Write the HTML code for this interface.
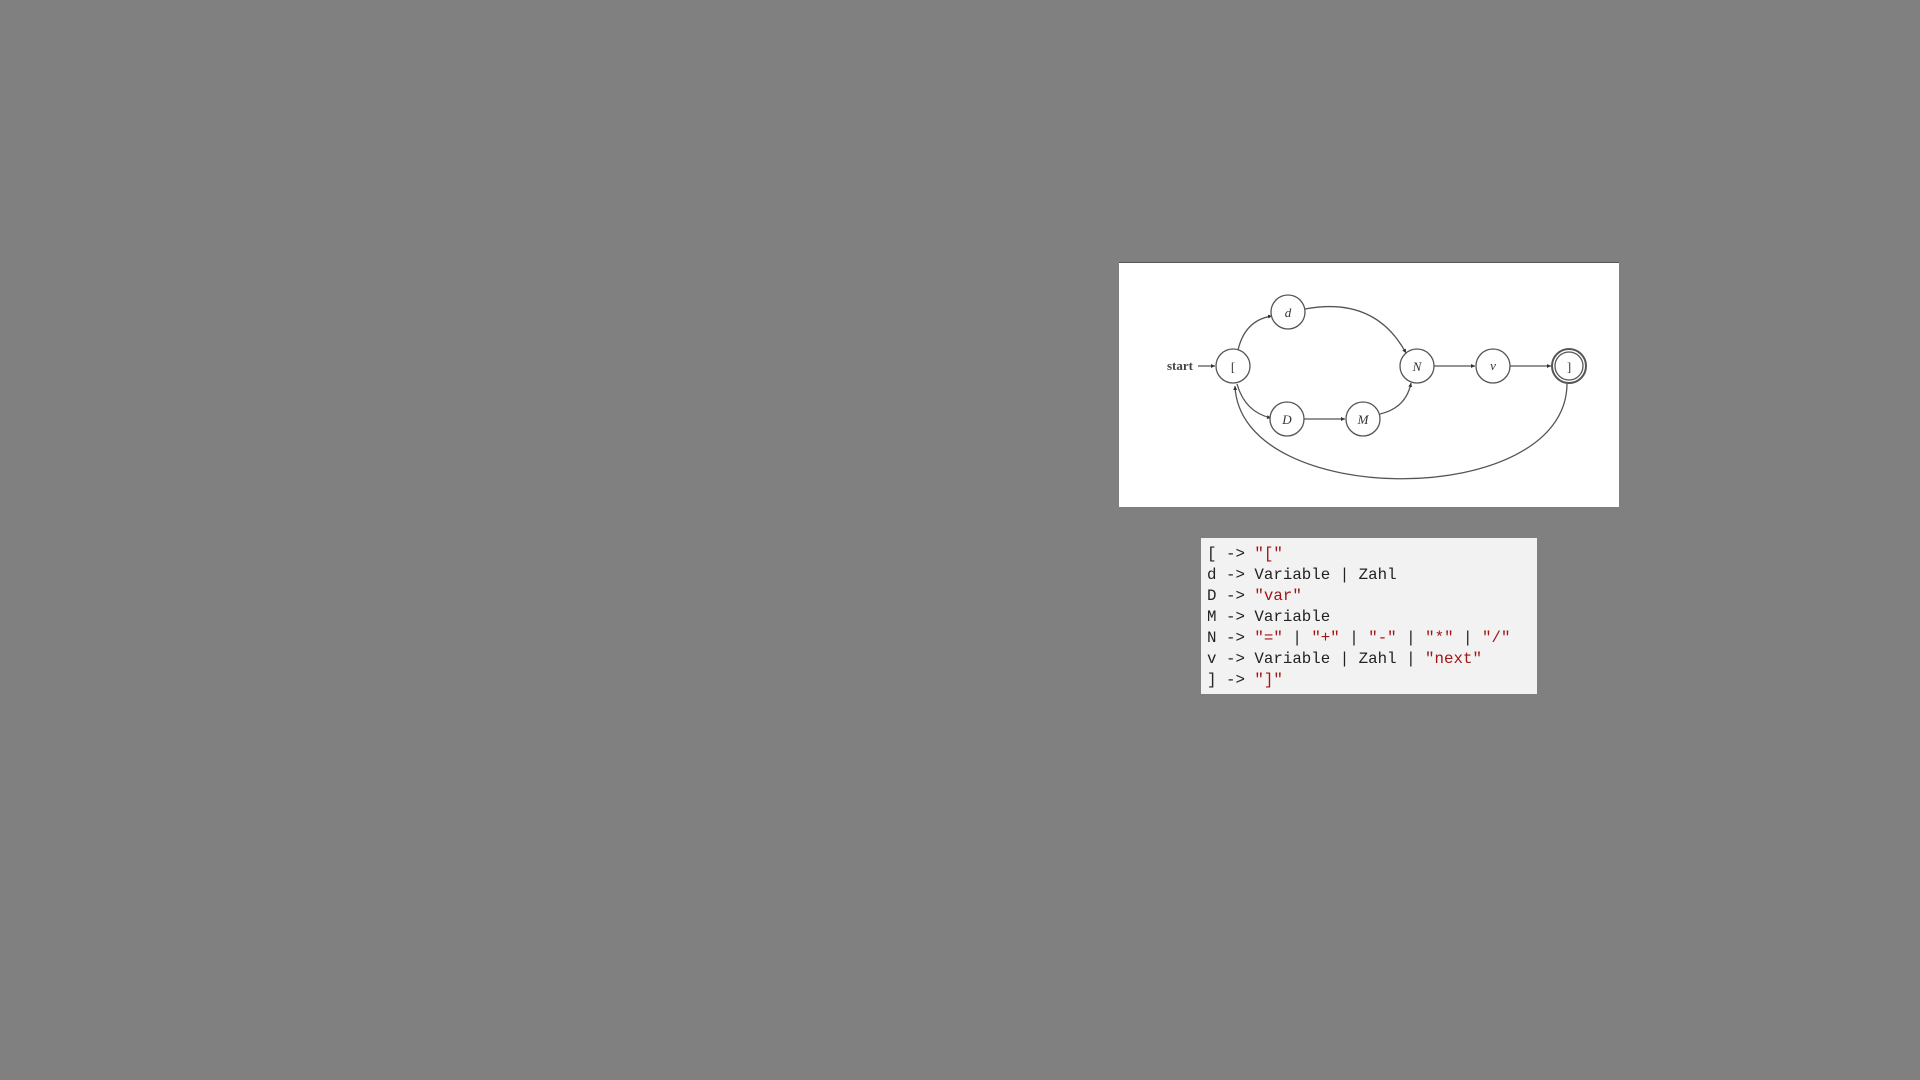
<!DOCTYPE html>
<html><head><meta charset="utf-8"><style>
html,body{margin:0;padding:0;width:1920px;height:1080px;background:#808080;overflow:hidden;font-family:"Liberation Sans",sans-serif}
#diagram{position:absolute;left:1119px;top:262px;width:500px;height:245px;background:#fff;border-top:1px solid #555;box-sizing:border-box}
#code{position:absolute;left:1201px;top:538px;width:336px;height:156px;background:#f2f2f2;box-sizing:border-box;padding:6px 0 0 6px;font-family:"Liberation Mono","DejaVu Sans Mono",monospace;font-size:15.8px;line-height:21px;color:#222;white-space:pre}
.s{color:#a31515}
svg{position:absolute;left:0;top:0}
</style></head><body>
<div id="diagram"></div>
<svg width="1920" height="1080">
<defs><marker id="ar" markerWidth="5" markerHeight="5" refX="4" refY="2.5" orient="auto" markerUnits="userSpaceOnUse"><path d="M0,0.5 L4,2.5 L0,4.5 z" fill="#333"/></marker></defs>
<g fill="none" stroke="#555" stroke-width="1.3">
<path d="M1198,366 L1215,366" marker-end="url(#ar)"/>
<path d="M1238,350 Q1245,320 1272,316" marker-end="url(#ar)"/>
<path d="M1237,384 Q1245,412 1271,418" marker-end="url(#ar)"/>
<path d="M1305,309 Q1375,296 1406,353" marker-end="url(#ar)"/>
<path d="M1304,419 L1345,419" marker-end="url(#ar)"/>
<path d="M1380,414 Q1406,408 1411,383" marker-end="url(#ar)"/>
<path d="M1434,366 L1475,366" marker-end="url(#ar)"/>
<path d="M1510,366 L1551,366" marker-end="url(#ar)"/>
<path d="M1567,384 C1566,510 1240,510 1235,386" marker-end="url(#ar)"/>
</g>
<g fill="#fff" stroke="#555" stroke-width="1.3">
<circle cx="1233" cy="366" r="17"/>
<circle cx="1288" cy="312" r="17"/>
<circle cx="1287" cy="419" r="17"/>
<circle cx="1363" cy="419" r="17"/>
<circle cx="1417" cy="366" r="17"/>
<circle cx="1493" cy="366" r="17"/>
<circle cx="1569" cy="366" r="17" stroke-width="2"/>
<circle cx="1569" cy="366" r="14"/>
</g>
<g font-family="Liberation Serif,serif" font-size="13" fill="#333" text-anchor="middle" font-style="italic">
<text x="1233" y="371" font-style="normal">[</text>
<text x="1288" y="317">d</text>
<text x="1287" y="424">D</text>
<text x="1363" y="424">M</text>
<text x="1417" y="371">N</text>
<text x="1493" y="370">v</text>
<text x="1569" y="371" font-style="normal">]</text>
<text x="1180" y="370" font-style="normal" font-size="13" font-weight="bold" fill="#444">start</text>
</g>
</svg>
<div id="code">[ -&gt; <span class="s">"["</span>
d -&gt; Variable | Zahl
D -&gt; <span class="s">"var"</span>
M -&gt; Variable
N -&gt; <span class="s">"="</span> | <span class="s">"+"</span> | <span class="s">"-"</span> | <span class="s">"*"</span> | <span class="s">"/"</span>
v -&gt; Variable | Zahl | <span class="s">"next"</span>
] -&gt; <span class="s">"]"</span></div>
</body></html>
